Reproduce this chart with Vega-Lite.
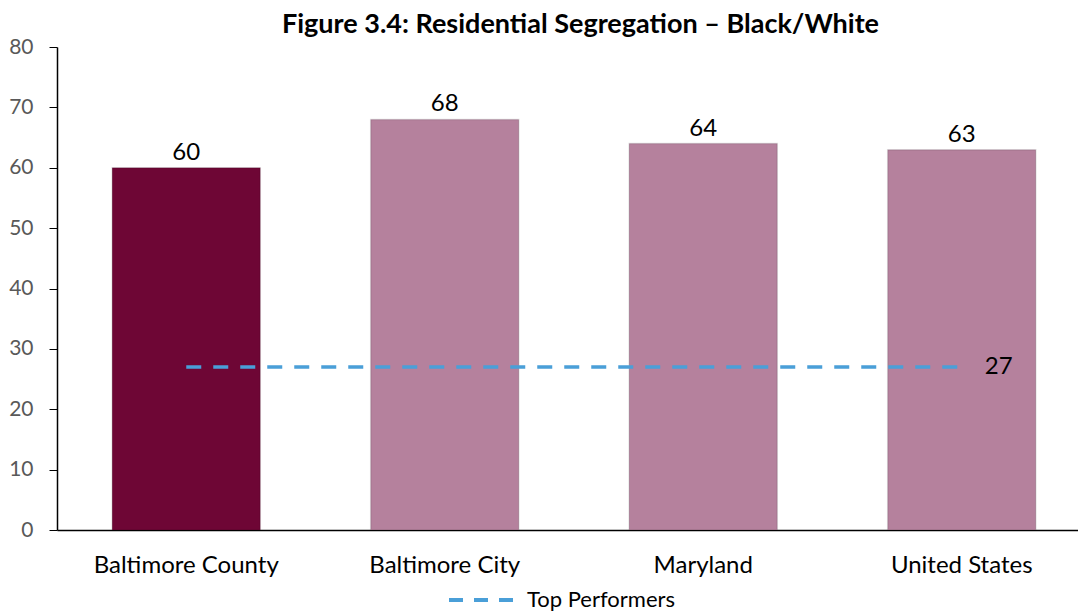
{
  "$schema": "https://vega.github.io/schema/vega-lite/v6.json",
  "autosize": {"type": "none"},
  "width": 1021,
  "height": 483,
  "padding": {"left": 57, "top": 47, "right": 0, "bottom": 83},
  "background": "white",
  "config": {"view": {"stroke": null}, "font": "Lato"},
  "title": {
    "text": "Figure 3.4: Residential Segregation – Black/White",
    "font": "Lato",
    "fontSize": 27,
    "fontWeight": "bold",
    "color": "#000000",
    "anchor": "middle",
    "dx": 13,
    "offset": -3
  },
  "data": {
    "values": [
      {"region": "Baltimore County", "value": 60, "top": 27, "series": "Top Performers", "highlight": "yes"},
      {"region": "Baltimore City", "value": 68, "top": 27, "series": "Top Performers", "highlight": "no"},
      {"region": "Maryland", "value": 64, "top": 27, "series": "Top Performers", "highlight": "no"},
      {"region": "United States", "value": 63, "top": 27, "series": "Top Performers", "highlight": "no"}
    ]
  },
  "encoding": {
    "x": {
      "field": "region",
      "type": "nominal",
      "sort": null,
      "scale": {"range": [0, 1034], "paddingInner": 0.427, "paddingOuter": 0.2135},
      "axis": {
        "title": null,
        "labelAngle": 0,
        "labelFont": "Lato",
        "labelFontSize": 24,
        "labelColor": "#000000",
        "labelPadding": 23,
        "labelLimit": 0,
        "ticks": false,
        "domainColor": "#000000",
        "domainWidth": 1.5
      }
    }
  },
  "layer": [
    {
      "mark": {"type": "bar", "stroke": "#000000", "strokeOpacity": 0.12, "strokeWidth": 1.5},
      "encoding": {
        "y": {
          "field": "value",
          "type": "quantitative",
          "scale": {"domain": [0, 80]},
          "axis": {
            "title": null,
            "values": [0, 10, 20, 30, 40, 50, 60, 70, 80],
            "grid": false,
            "labelFont": "Lato",
            "labelFontSize": 21,
            "labelColor": "#595959",
            "labelPadding": 16,
            "tickSize": 8,
            "tickColor": "#000000",
            "domainColor": "#000000",
            "domainWidth": 1.5
          }
        },
        "color": {
          "field": "highlight",
          "type": "nominal",
          "scale": {"domain": ["yes", "no"], "range": ["#6e0635", "#b5819d"]},
          "legend": null
        }
      }
    },
    {
      "mark": {"type": "text", "baseline": "alphabetic", "dy": -8, "font": "Lato", "fontSize": 24, "color": "#000000"},
      "encoding": {
        "y": {"field": "value", "type": "quantitative"},
        "text": {"field": "value", "type": "quantitative"}
      }
    },
    {
      "mark": {"type": "line", "strokeWidth": 3.5, "strokeDash": [15, 12]},
      "encoding": {
        "y": {"field": "top", "type": "quantitative"},
        "stroke": {
          "field": "series",
          "type": "nominal",
          "scale": {"range": ["#4a9fd8"]},
          "legend": {
            "title": null,
            "orient": "none",
            "legendX": 390,
            "legendY": 516,
            "symbolType": "stroke",
            "symbolSize": 4900,
            "symbolStrokeWidth": 4,
            "symbolDash": [14, 11],
            "labelFont": "Lato",
            "labelFontSize": 22,
            "labelColor": "#000000",
            "labelOffset": 6
          }
        }
      }
    },
    {
      "transform": [{"filter": "datum.region === 'United States'"}],
      "mark": {"type": "text", "align": "left", "baseline": "middle", "dx": 23, "font": "Lato", "fontSize": 24, "color": "#000000"},
      "encoding": {
        "y": {"field": "top", "type": "quantitative"},
        "text": {"field": "top", "type": "quantitative"}
      }
    }
  ]
}
